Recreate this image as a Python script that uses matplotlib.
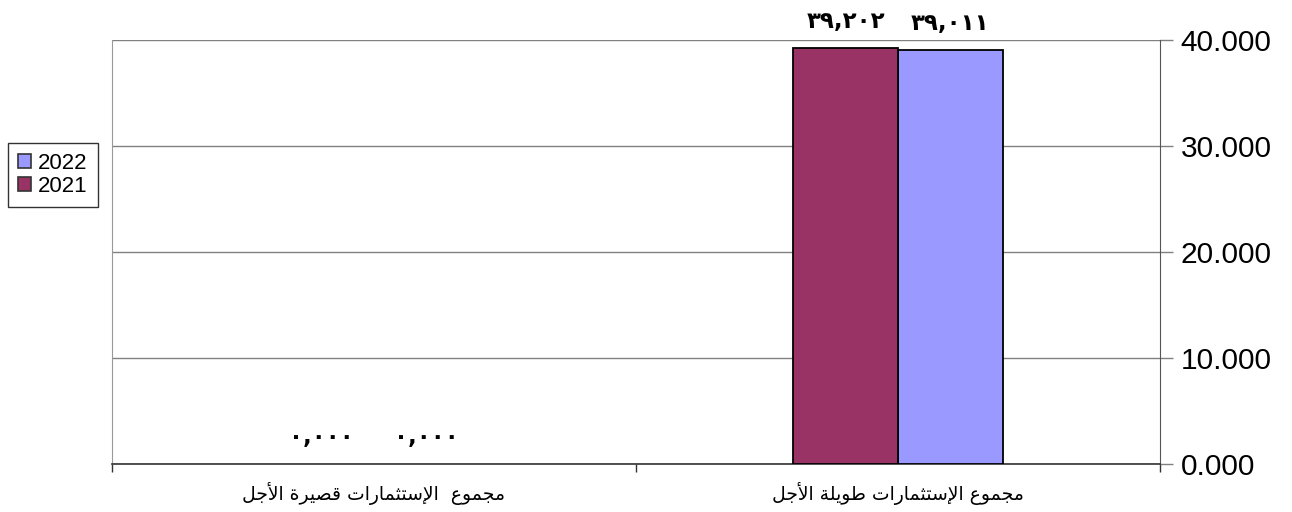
import matplotlib.pyplot as plt
import numpy as np
from matplotlib.patches import Patch

# investment totals (long-term first, axis runs right-to-left)
categories = ["مجموع الإستثمارات طويلة الأجل", "مجموع  الإستثمارات قصيرة الأجل"]
series_names = ["2022", "2021"]
values_2022 = [39011, 0]
values_2021 = [39202, 0]
yticks = [0, 10000, 20000, 30000, 40000]

colors = {"2022": "#9999FF", "2021": "#993366"}

# glyph forms: (isolated, final, initial, medial); right-joining letters have no initial/medial
FORMS = {
    'ا': (0xFE8D, 0xFE8E, None, None),
    'أ': (0xFE83, 0xFE84, None, None),
    'إ': (0xFE87, 0xFE88, None, None),
    'ر': (0xFEAD, 0xFEAE, None, None),
    'و': (0xFEED, 0xFEEE, None, None),
    'ة': (0xFE93, 0xFE94, None, None),
    'ت': (0xFE95, 0xFE96, 0xFE97, 0xFE98),
    'ث': (0xFE99, 0xFE9A, 0xFE9B, 0xFE9C),
    'ج': (0xFE9D, 0xFE9E, 0xFE9F, 0xFEA0),
    'س': (0xFEB1, 0xFEB2, 0xFEB3, 0xFEB4),
    'ص': (0xFEB9, 0xFEBA, 0xFEBB, 0xFEBC),
    'ط': (0xFEC1, 0xFEC2, 0xFEC3, 0xFEC4),
    'ع': (0xFEC9, 0xFECA, 0xFECB, 0xFECC),
    'ق': (0xFED5, 0xFED6, 0xFED7, 0xFED8),
    'ل': (0xFEDD, 0xFEDE, 0xFEDF, 0xFEE0),
    'م': (0xFEE1, 0xFEE2, 0xFEE3, 0xFEE4),
    'ي': (0xFEF1, 0xFEF2, 0xFEF3, 0xFEF4),
}
LAM_ALEF = {'ا': (0xFEFB, 0xFEFC), 'أ': (0xFEF7, 0xFEF8), 'إ': (0xFEF9, 0xFEFA)}


def shape(text):
    # join arabic letters and put them in visual (left-to-right) order
    res = []
    prev_joins = False
    i = 0
    n = len(text)
    while i < n:
        c = text[i]
        if c not in FORMS:
            res.append(c)
            prev_joins = False
            i += 1
            continue
        if c == 'ل' and i + 1 < n and text[i + 1] in LAM_ALEF:
            iso, fin = LAM_ALEF[text[i + 1]]
            res.append(chr(fin if prev_joins else iso))
            prev_joins = False
            i += 2
            continue
        forms = FORMS[c]
        nxt = text[i + 1] if i + 1 < n else None
        next_joins = forms[2] is not None and nxt in FORMS
        if prev_joins and next_joins:
            g = forms[3]
        elif prev_joins:
            g = forms[1]
        elif next_joins:
            g = forms[2]
        else:
            g = forms[0]
        res.append(chr(g))
        prev_joins = next_joins
        i += 1
    return ''.join(reversed(res))


def arabic_digits(s):
    return s.translate(str.maketrans('0123456789', '٠١٢٣٤٥٦٧٨٩'))


fig = plt.figure(figsize=(12.92, 5.12), dpi=100)
ax = fig.add_axes([112 / 1292, 1 - 464 / 512, (1160 - 112) / 1292, 424 / 512])

x = np.arange(len(categories))
width = 0.2
offsets = {"2022": -width / 2, "2021": width / 2}
data = {"2022": values_2022, "2021": values_2021}

for name in series_names:
    # zero-height bars get no outline
    lws = [1.3 if v > 0 else 0 for v in data[name]]
    bars = ax.bar(x + offsets[name], data[name], width, color=colors[name],
                  edgecolor='black', linewidth=lws, zorder=3)
    for b, v in zip(bars, data[name]):
        ax.annotate(arabic_digits(format(v, '05,d')),
                    (b.get_x() + b.get_width() / 2, v),
                    xytext=(0, 11), textcoords='offset points',
                    ha='center', va='bottom', fontsize=16.5, fontweight='bold',
                    family='DejaVu Sans')

ax.set_xlim(1.5, -0.5)
ax.set_ylim(0, 40000)

ax.set_xticks(x)
ax.set_xticklabels([shape(c) for c in categories], family='DejaVu Sans', fontsize=13.5)
ax.set_xticks([-0.5, 0.5, 1.5], minor=True)
ax.tick_params(axis='x', which='major', length=0, pad=13)
ax.tick_params(axis='x', which='minor', length=6, width=1, color='#333333')

ax.yaxis.tick_right()
ax.set_yticks(yticks)
ax.set_yticklabels([format(v, '05,d').replace(',', '.') for v in yticks],
                   family='Liberation Sans', fontsize=21.5)
ax.tick_params(axis='y', length=9, width=1, color='#808080', pad=6)

ax.grid(axis='y', color='#808080', linewidth=1, zorder=0)
ax.spines['top'].set_visible(False)
ax.spines['left'].set_color('#999999')
ax.spines['right'].set_color('#555555')
ax.spines['bottom'].set_color('#333333')
ax.spines['bottom'].set_linewidth(1.2)

handles = [Patch(facecolor=colors[n], edgecolor='#333333', linewidth=1.2) for n in series_names]
leg = fig.legend(handles, series_names, loc='upper left',
                 bbox_to_anchor=(8 / 1292, 1 - 143 / 512),
                 prop={'family': 'Liberation Sans', 'size': 16},
                 fancybox=False, frameon=True, edgecolor='black',
                 handlelength=0.6, handleheight=0.6, handletextpad=0.3,
                 borderpad=0.45, labelspacing=0.1, borderaxespad=0)
leg.get_frame().set_linewidth(1)

fig.savefig('out.png', dpi=100)
